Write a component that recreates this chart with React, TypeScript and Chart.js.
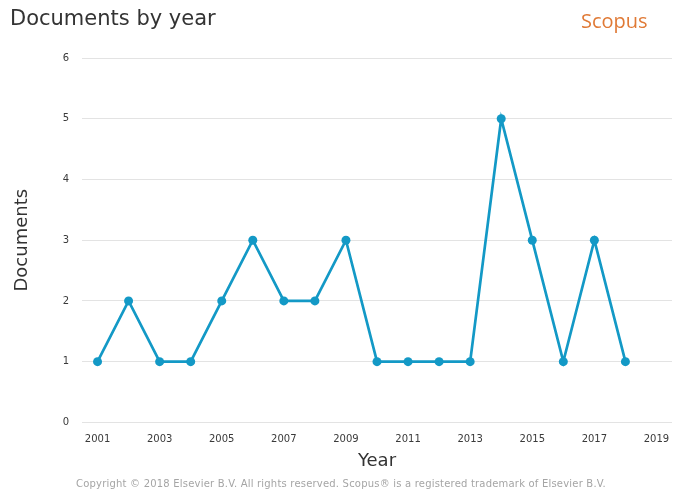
import React, { useEffect, useRef } from "react";
import { Chart, registerables } from "chart.js";

Chart.register(...registerables);

const years: string[] = ["2001","2002","2003","2004","2005","2006","2007","2008","2009","2010","2011","2012","2013","2014","2015","2016","2017","2018","2019"];
const documents: (number | null)[] = [1,2,1,1,2,3,2,2,3,1,1,1,1,5,3,1,3,1,null];
const yTicks: number[] = [0,1,2,3,4,5,6];

const LINE = "#1399c6";

export default function App() {
  const ref = useRef<HTMLCanvasElement | null>(null);
  useEffect(() => {
    const prevMargin = document.body.style.margin;
    document.body.style.margin = "0";
    const ctx = ref.current!;
    const chart = new Chart(ctx, {
      type: "line",
      data: {
        labels: years,
        datasets: [{
          data: documents,
          borderColor: LINE,
          backgroundColor: LINE,
          borderWidth: 2.7,
          pointRadius: 4.5,
          pointBackgroundColor: LINE,
          pointBorderWidth: 0,
          tension: 0,
          spanGaps: false,
        }],
      },
      options: {
        animation: false,
        responsive: false,
        maintainAspectRatio: false,
        layout: { padding: { left: 0, right: 10, top: 58, bottom: 20 } },
        plugins: { legend: { display: false }, tooltip: { enabled: false } },
        scales: {
          x: {
            type: "category",
            offset: true,
            grid: { display: false, drawTicks: false },
            border: { display: false },
            ticks: {
              color: "#3a3a3a",
              font: { family: "DejaVu Sans", size: 10 },
              maxRotation: 0,
              autoSkip: false,
              padding: 11,
              callback: (v: any, i: number) => (i % 2 === 0 ? years[i] : ""),
            },
            title: {
              display: true,
              text: "Year",
              color: "#333",
              font: { family: "DejaVu Sans", size: 18 },
              padding: { top: -6, bottom: 0 },
            },
          },
          y: {
            min: 0,
            max: 6,
            afterBuildTicks: (s: any) => { s.ticks = yTicks.map((v) => ({ value: v })); },
            grid: { color: "#e3e3e3", drawTicks: false, lineWidth: 1 },
            border: { display: false },
            ticks: {
              color: "#3a3a3a",
              font: { family: "DejaVu Sans", size: 10 },
              padding: 13,
            },
            afterFit: (s: any) => { s.width = 82; },
            title: {
              display: true,
              text: "Documents",
              color: "#333",
              font: { family: "DejaVu Sans", size: 18 },
              padding: { top: 12, bottom: 0 },
            },
          },
        },
      },
    });
    return () => { chart.destroy(); document.body.style.margin = prevMargin; };
  }, []);

  return (
    <div style={{ position: "relative", width: 682, height: 492, background: "#fff", overflow: "hidden" }}>
      <canvas ref={ref} width={682} height={492} style={{ position: "absolute", left: 0, top: 0, width: 682, height: 492 }} />
      <div style={{ position: "absolute", left: 10, top: 6, fontFamily: "'DejaVu Sans', sans-serif", fontSize: 21, color: "#333", whiteSpace: "nowrap" }}>Documents by year</div>
      <div style={{ position: "absolute", left: 581, top: 7, fontFamily: "'Open Sans', sans-serif", fontSize: 20, fontWeight: 500, color: "#e07a36" }}>Scopus</div>
      <div style={{ position: "absolute", left: 0, width: 682, top: 478, textAlign: "center", fontFamily: "'DejaVu Sans', sans-serif", fontSize: 10, letterSpacing: 0.2, color: "#a5a5a5", whiteSpace: "nowrap" }}>Copyright © 2018 Elsevier B.V. All rights reserved. Scopus® is a registered trademark of Elsevier B.V.</div>
    </div>
  );
}
